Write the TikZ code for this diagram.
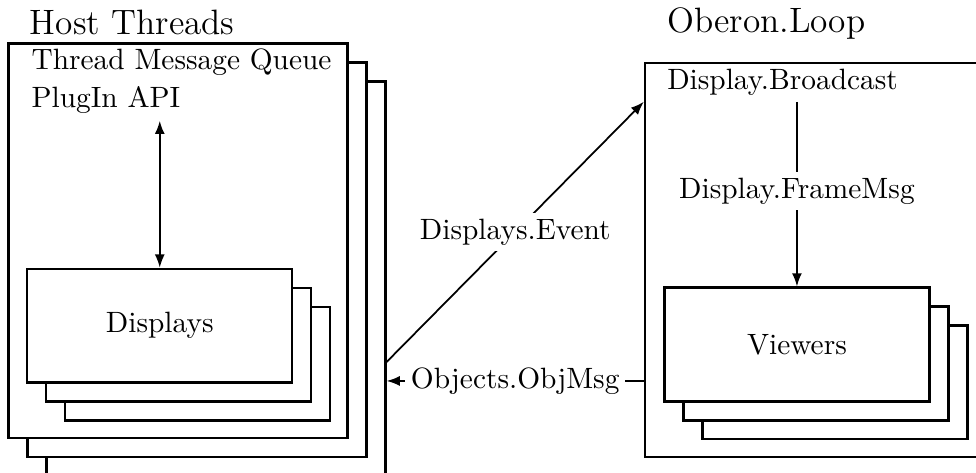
\documentclass[tikz,border=0pt]{standalone}
\usepackage{amsmath}
\usetikzlibrary{arrows.meta}

\tikzset{
  framebox/.style={draw,thick,fill=white,inner sep=0pt,minimum width=4.055cm,minimum height=4.72cm},
  stackbox/.style={draw,thick,fill=white,inner sep=0pt,minimum width=3.17cm,minimum height=1.36cm},
  txt/.style={inner sep=0pt,anchor=base west},
  msg/.style={fill=white,inner sep=2pt},
  >={Latex[length=4.5pt,width=3.4pt]}
}

\begin{document}
\begin{tikzpicture}
    \useasboundingbox (0,0) rectangle (11.675,-5.658);
    \foreach \k in {2,1,0}
    \node[framebox,xshift=\k*0.227cm,yshift=-\k*0.227cm] (host\k) at (2.129,-2.880) {};
    \node[framebox] (oberon) at (9.743,-3.110) {};
    \foreach \k in {2,1}
    \node[stackbox,xshift=\k*0.227cm,yshift=-\k*0.227cm] (displays\k) at (1.911,-3.896) {};
    \node[stackbox] (displays0) at (1.911,-3.896) {Displays};
    \foreach \k in {2,1}
    \node[stackbox,xshift=\k*0.227cm,yshift=-\k*0.227cm] (viewers\k) at (9.533,-4.121) {};
    \node[stackbox] (viewers0) at (9.533,-4.121) {Viewers};
    \node[txt,font=\large] (hosttitle) at (0.350,-0.407) {Host Threads};
    \node[txt,font=\large] (looptitle) at (7.975,-0.387) {Oberon.Loop};
    \node[txt] (queue) at (0.371,-0.829) {Thread Message Queue};
    \node[txt] (api) at (0.371,-1.288) {PlugIn API};
    \node[txt] (broadcast) at (7.975,-1.068) {Display.Broadcast};
    \draw[semithick,<->,shorten >=2.2pt] (displays0.north) -- (displays0.north |- api.south);
    \draw[semithick,->,shorten <=2pt] (viewers0.north |- broadcast.south)
      -- node[msg] {Display.FrameMsg} (viewers0.north);
    \coordinate (evfrom) at (host2.east |- 0,-4.330);
    \coordinate (evto) at (oberon.west |- 0,-1.217);
    \draw[semithick,->] (evfrom) -- node[msg] {Displays.Event} (evto);
    \coordinate (objfrom) at (oberon.west |- 0,-4.557);
    \draw[semithick,->] (objfrom) -- node[msg] {Objects.ObjMsg} (objfrom -| host2.east);
\end{tikzpicture}
\end{document}
